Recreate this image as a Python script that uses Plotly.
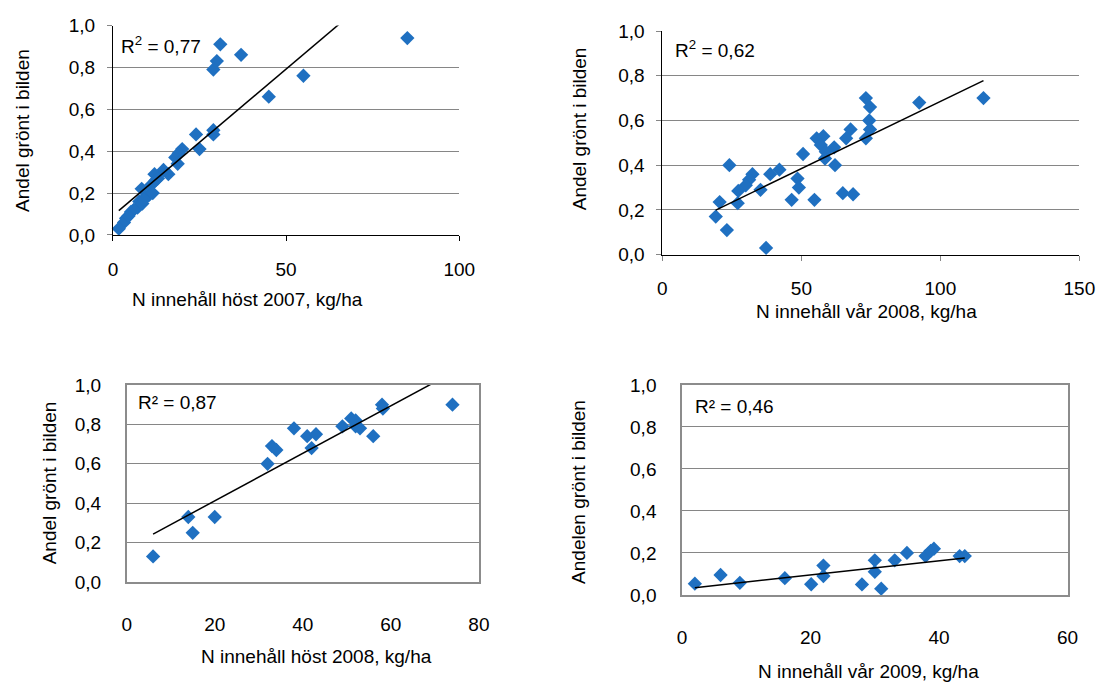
import plotly.graph_objects as go
import numpy as np

W, H = 1115, 691

# ---------------- data ----------------
# Panel 1: N innehåll höst 2007
x1 = [85, 31, 37, 30, 29, 55, 45, 29, 29, 24, 25, 20, 19, 18, 18.7, 16, 14.6, 12, 12.3, 11.1,
      8.3, 10.4, 9.4, 7.6, 7.1, 5.2, 3.8, 3.2, 1.7, 6, 4.5, 8.5, 9, 11.5, 13]
y1 = [0.94, 0.91, 0.86, 0.83, 0.79, 0.76, 0.66, 0.50, 0.48, 0.48, 0.41, 0.41, 0.39, 0.37, 0.34,
      0.29, 0.31, 0.29, 0.26, 0.24, 0.22, 0.19, 0.18, 0.16, 0.13, 0.11, 0.08, 0.06, 0.03, 0.12,
      0.09, 0.15, 0.17, 0.20, 0.27]
trend1 = [0.014, 0.092]      # slope, intercept
r2_1 = "0,77"

# Panel 2: N innehåll vår 2008
x2 = [115.5, 92.4, 73.2, 74.7, 74.4, 74.7, 73.2, 67.7, 66.1, 55.5, 57.9, 57.0, 61.8, 58.8, 58.5,
      50.6, 62.1, 42.1, 38.8, 24.1, 32.4, 31.2, 30.0, 27.3, 35.3, 48.6, 49.1, 46.5, 54.7, 64.9,
      68.6, 20.6, 27.1, 19.2, 23.2, 37.3]
y2 = [0.70, 0.68, 0.70, 0.66, 0.60, 0.56, 0.52, 0.56, 0.52, 0.52, 0.53, 0.49, 0.48, 0.46, 0.43,
      0.45, 0.40, 0.38, 0.36, 0.40, 0.36, 0.335, 0.31, 0.285, 0.29, 0.34, 0.30, 0.245, 0.245, 0.275,
      0.27, 0.235, 0.23, 0.17, 0.11, 0.03]
trend2 = [0.00601, 0.084]
r2_2 = "0,62"

# Panel 3: N innehåll höst 2008
x3 = [6, 14, 15, 20, 32, 33, 34, 38, 41, 43, 42, 49, 51, 52, 52, 53, 56, 58, 58.2, 74]
y3 = [0.13, 0.33, 0.25, 0.33, 0.60, 0.69, 0.67, 0.78, 0.74, 0.75, 0.68, 0.79, 0.83, 0.82, 0.79,
      0.78, 0.74, 0.90, 0.88, 0.90]
trend3 = [0.01205, 0.171]
r2_3 = "0,87"

# Panel 4: N innehåll vår 2009
x4 = [2.0, 6.0, 9.0, 16.0, 20.1, 22.0, 22.0, 28.0, 30.0, 30.0, 31.0, 33.1, 35.0, 37.9, 38.7, 39.2,
      43.2, 44.0]
y4 = [0.054, 0.095, 0.058, 0.080, 0.051, 0.14, 0.09, 0.05, 0.165, 0.11, 0.03, 0.165, 0.20, 0.185,
      0.21, 0.22, 0.185, 0.185]
trend4 = [0.00336, 0.028]
r2_4 = "0,46"

y_ticks = [0, 0.2, 0.4, 0.6, 0.8, 1.0]
xtitles = ["N innehåll höst 2007, kg/ha", "N innehåll vår 2008, kg/ha",
           "N innehåll höst 2008, kg/ha", "N innehåll vår 2009, kg/ha"]
ytitles = ["Andel grönt i bilden", "Andel grönt i bilden",
           "Andel grönt i bilden", "Andelen grönt i bilden"]
xranges = [[0, 100], [0, 150], [0, 80], [0, 60]]
xdticks = [50, 50, 20, 20]

# ---------------- layout geometry (pixels) ----------------
# (left, right, top, bottom) of each plot area
boxes = [(110, 463, 16, 232), (670, 1095, 21.7, 252.3), (124, 483, 386.7, 590), (690, 1083, 386.7, 603.3)]
xtitle_pos = [(247, 299), (878, 311), (317, 667), (880, 682)]
ytitle_pos = [(18, 124), (585, 122), (45, 488), (585, 497)]
r2_pos = [(116, 36), (681, 40), (134, 405), (701, 409)]
r2_text = ["R<sup>2</sup> = " + r2_1, "R<sup>2</sup> = " + r2_2, "R² = " + r2_3, "R² = " + r2_4]

FONT = "Liberation Sans, Arial, sans-serif"
FS = 19
BLUE = "#1f70c1"
GRID = "#868686"

fig = go.Figure()
data = [(x1, y1, trend1), (x2, y2, trend2), (x3, y3, trend3), (x4, y4, trend4)]
layout = dict(
    width=W, height=H, margin=dict(l=0, r=0, t=0, b=0),
    paper_bgcolor="white", plot_bgcolor="white", showlegend=False,
    separators=", ", font=dict(family=FONT, size=FS, color="black"),
)
annotations = []
for i, (xs, ys, tr) in enumerate(data):
    n = "" if i == 0 else str(i + 1)
    xa, ya = "x" + n, "y" + n
    fig.add_trace(go.Scatter(x=xs, y=ys, mode="markers", xaxis=xa, yaxis=ya,
                             marker=dict(symbol="diamond", size=11, color=BLUE, line=dict(width=0)),
                             cliponaxis=False))
    tx = [min(xs), max(xs)]
    ty = [tr[0] * v + tr[1] for v in tx]
    fig.add_trace(go.Scatter(x=tx, y=ty, mode="lines", xaxis=xa, yaxis=ya,
                             line=dict(color="black", width=1.5)))
    l, r, t, b = boxes[i]
    boxed = i >= 2
    axcol = "#8c8c8c" if boxed else "black"
    layout["xaxis" + n] = dict(
        domain=[l / W, r / W], anchor=ya, range=xranges[i], dtick=xdticks[i], tick0=0,
        showgrid=False, zeroline=False, showline=True, linecolor=axcol,
        linewidth=1.5 if boxed else 1, mirror=boxed,
        ticks="" if boxed else "outside", ticklen=5, tickcolor="#868686" if i == 1 else "black",
        ticklabelstandoff=12 if not boxed else 24,
        tickfont=dict(family=FONT, size=FS, color="black"),
    )
    layout["yaxis" + n] = dict(
        domain=[1 - b / H, 1 - t / H], anchor=xa, range=[0, 1], tickvals=y_ticks, tickformat=".1f",
        showgrid=True, gridcolor=GRID, gridwidth=1.2, zeroline=False, showline=True,
        linecolor=axcol, linewidth=1.5 if boxed else 1, mirror=boxed,
        ticks="" if boxed else "outside", ticklen=5, tickcolor=GRID,
        ticklabelstandoff=8 if not boxed else 20,
        tickfont=dict(family=FONT, size=FS, color="black"),
    )
    xt = xtitle_pos[i]
    annotations.append(dict(text=xtitles[i], x=xt[0] / W, y=1 - xt[1] / H, xref="paper", yref="paper",
                            showarrow=False, xanchor="center", yanchor="middle",
                            font=dict(family=FONT, size=FS, color="black")))
    yt = ytitle_pos[i]
    annotations.append(dict(text=ytitles[i], x=yt[0] / W, y=1 - yt[1] / H, xref="paper", yref="paper",
                            showarrow=False, xanchor="center", yanchor="middle", textangle=-90,
                            font=dict(family=FONT, size=FS, color="black")))
    rp = r2_pos[i]
    annotations.append(dict(text=r2_text[i], x=rp[0] / W, y=1 - rp[1] / H, xref="paper", yref="paper",
                            showarrow=False, xanchor="left", yanchor="middle",
                            font=dict(family=FONT, size=FS, color="black")))
layout["annotations"] = annotations
fig.update_layout(**layout)
fig.write_html("out.html")
